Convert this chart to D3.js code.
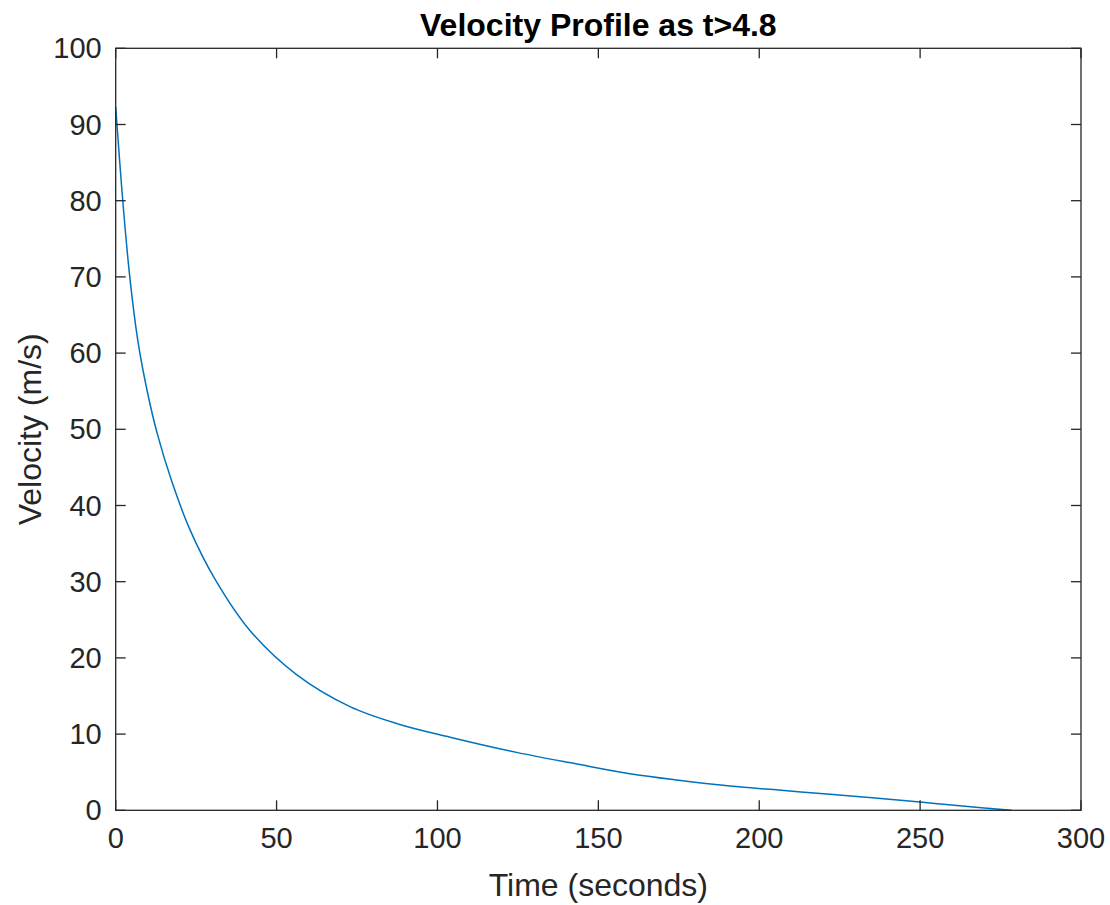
<!DOCTYPE html>
<html>
<head>
    <meta charset="utf-8">
    <style>
        body { margin: 0; background: #fff; }
        text { font-family: "Liberation Sans", Arial, Helvetica, sans-serif; fill: #262626; }
        .tick-label { font-size: 29px; }
        .axis-label { font-size: 32px; }
        .title { font-size: 32px; font-weight: bold; fill: #000; }
    </style>
</head>
<body>
<svg width="1110" height="905"></svg>

<script src="https://d3js.org/d3.v7.min.js"></script>
<script>
    // values
    let timeSec = [0, 2, 4.3, 7, 10, 13, 17.4, 23, 30.9, 41.7, 56.2, 72.8, 88, 103.9, 124.6, 143, 159.8, 175, 190.9, 206, 222, 236, 250, 264, 278.4]
    let velocity = [92.3, 81, 70.3, 61.3, 54.6, 49.3, 43.2, 36.9, 30.3, 23.6, 17.8, 13.6, 11.3, 9.6, 7.6, 6.1, 4.8, 3.95, 3.2, 2.65, 2.1, 1.6, 1.08, 0.54, 0]
    let xTicks = [0, 50, 100, 150, 200, 250, 300]
    let yTicks = [0, 10, 20, 30, 40, 50, 60, 70, 80, 90, 100]

    let plotLeft = 115.7, plotRight = 1081, plotTop = 48.3, plotBottom = 810.3
    let tickLen = 10
    let axisColor = '#262626'

    let svg = d3.select("svg")

    let x = d3.scaleLinear().domain([0, 300]).range([plotLeft, plotRight])
    let y = d3.scaleLinear().domain([0, 100]).range([plotBottom, plotTop])

    // the curve
    let points = timeSec.map((t, i) => ({ t: t, v: velocity[i] }))
    let line = d3.line()
        .x(d => x(d.t))
        .y(d => y(d.v))
        .curve(d3.curveCatmullRom.alpha(0.5))

    svg.append("path")
        .datum(points)
        .attr("d", line)
        .attr("fill", "none")
        .attr("stroke", "#0072BD")
        .attr("stroke-width", 1.5)

    // box
    svg.append("rect")
        .attr("x", plotLeft)
        .attr("y", plotTop)
        .attr("width", plotRight - plotLeft)
        .attr("height", plotBottom - plotTop)
        .attr("fill", "none")
        .attr("stroke", axisColor)
        .attr("stroke-width", 1.3)

    // ticks pointing inward on all four sides
    let g = svg.append("g").attr("stroke", axisColor).attr("stroke-width", 1.3)
    xTicks.forEach(t => {
        g.append("line").attr("x1", x(t)).attr("x2", x(t)).attr("y1", plotBottom).attr("y2", plotBottom - tickLen)
        g.append("line").attr("x1", x(t)).attr("x2", x(t)).attr("y1", plotTop).attr("y2", plotTop + tickLen)
    })
    yTicks.forEach(v => {
        g.append("line").attr("x1", plotLeft).attr("x2", plotLeft + tickLen).attr("y1", y(v)).attr("y2", y(v))
        g.append("line").attr("x1", plotRight).attr("x2", plotRight - tickLen).attr("y1", y(v)).attr("y2", y(v))
    })

    // tick labels
    svg.selectAll(".xlab")
        .data(xTicks)
        .join("text")
        .attr("class", "tick-label")
        .attr("x", d => x(d))
        .attr("y", plotBottom + 38)
        .attr("text-anchor", "middle")
        .text(d => d)

    svg.selectAll(".ylab")
        .data(yTicks)
        .join("text")
        .attr("class", "tick-label")
        .attr("x", plotLeft - 14)
        .attr("y", d => y(d) + 10)
        .attr("text-anchor", "end")
        .text(d => d)

    // axis titles
    svg.append("text")
        .attr("class", "axis-label")
        .attr("x", (plotLeft + plotRight) / 2)
        .attr("y", 896)
        .attr("text-anchor", "middle")
        .text("Time (seconds)")

    svg.append("text")
        .attr("class", "axis-label")
        .attr("transform", "translate(41," + ((plotTop + plotBottom) / 2) + ") rotate(-90)")
        .attr("text-anchor", "middle")
        .text("Velocity (m/s)")

    svg.append("text")
        .attr("class", "title")
        .attr("x", (plotLeft + plotRight) / 2)
        .attr("y", 36)
        .attr("text-anchor", "middle")
        .text("Velocity Profile as t>4.8")
</script>
</body>
</html>
